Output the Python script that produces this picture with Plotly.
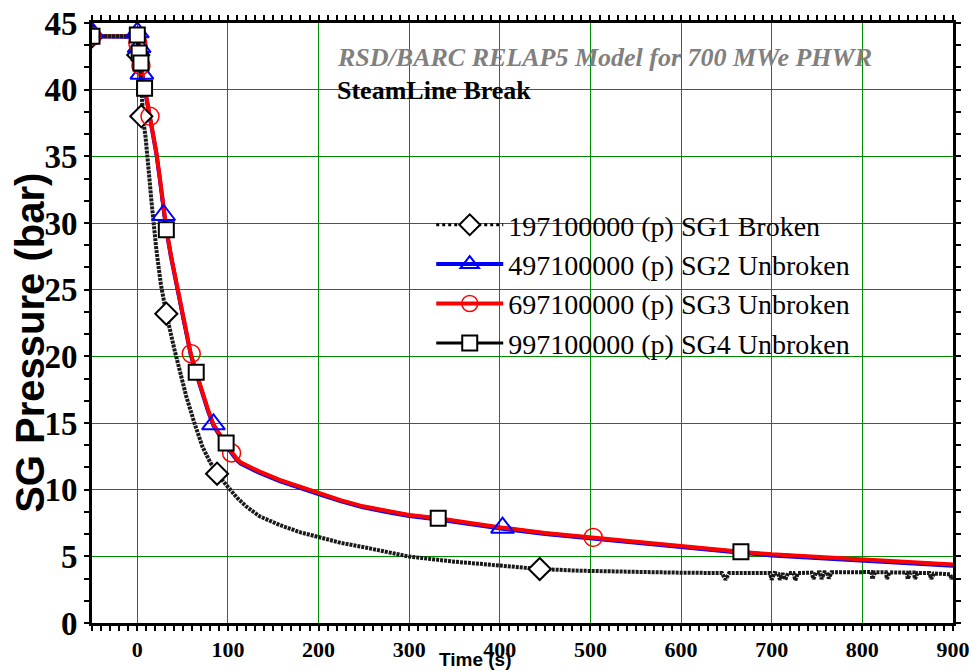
import plotly.graph_objects as go

# ---------------- data ----------------
# SG1 broken (lower curve)
t_sg1 = [-50, 0, 2, 4, 5, 7, 9, 11, 13, 15.5, 21, 26, 32, 41, 54, 63, 72, 80, 88, 100, 110, 120, 135,
         157, 180, 200, 225, 249, 275, 300, 350, 400, 444, 488, 550, 600, 645, 649, 653, 698, 700, 703,
         707, 709, 712, 715, 718, 724, 726, 729, 744, 746, 749, 753, 755, 758, 761, 763, 766, 790, 810,
         811, 814, 826, 827, 830, 849, 850, 853, 857, 858, 861, 874, 876, 879, 897, 898, 900]
p_sg1 = [44.0, 44.0, 42.5, 40.5, 38.5, 37.5, 36.5, 35.3, 33.6, 31.7, 28.0, 25.4, 23.2, 20.5, 17.0, 15.0,
         13.2, 12.1, 11.2, 10.2, 9.4, 8.75, 8.0, 7.35, 6.8, 6.45, 6.0, 5.7, 5.3, 4.98, 4.6, 4.28, 4.05,
         3.92, 3.82, 3.77, 3.75, 3.25, 3.75, 3.75, 3.25, 3.75, 3.7, 3.25, 3.72, 3.25, 3.75, 3.75, 3.2,
         3.75, 3.78, 3.3, 3.78, 3.8, 3.3, 3.8, 3.8, 3.35, 3.8, 3.82, 3.82, 3.3, 3.8, 3.8, 3.3, 3.8, 3.78,
         3.3, 3.78, 3.78, 3.3, 3.75, 3.75, 3.3, 3.72, 3.65, 3.3, 3.6]

# Unbroken curves
t_ub = [-50, 0, 1, 2, 4, 6, 8, 11, 14, 18, 21, 25, 29, 32, 37, 43, 50, 59, 65, 72, 78, 84, 90, 95, 100,
        105, 110, 114, 120, 135, 157, 180, 200, 225, 249, 275, 300, 332, 360, 403, 450, 500, 550, 600,
        666, 700, 750, 797, 850, 900]
p_sg2 = [44.0, 43.95, 43.5, 42.9, 41.8, 40.9, 40.1, 39.0, 37.9, 36.3, 35.2, 33.2, 30.7, 29.5, 27.5, 25.4,
         22.9, 20.1, 18.7, 17.1, 15.9, 14.8, 14.1, 13.6, 13.1, 12.6, 12.2, 11.95, 11.75, 11.25, 10.65,
         10.1, 9.67, 9.12, 8.67, 8.32, 8.02, 7.77, 7.47, 7.07, 6.67, 6.34, 5.97, 5.67, 5.27, 5.07, 4.87,
         4.64, 4.47, 4.3]
p_sg3 = [44.0, 44.0, 43.6, 43.0, 41.9, 41.0, 40.2, 39.1, 38.0, 36.4, 35.3, 33.3, 30.8, 29.6, 27.6, 25.5,
         23.0, 20.2, 18.8, 17.2, 16.0, 14.9, 14.2, 13.7, 13.2, 12.7, 12.3, 12.05, 11.85, 11.35, 10.73,
         10.2, 9.75, 9.2, 8.75, 8.4, 8.1, 7.85, 7.55, 7.15, 6.75, 6.42, 6.05, 5.75, 5.35, 5.15, 4.95,
         4.72, 4.55, 4.38]
p_sg4 = [44.0, 44.0, 43.6, 43.0, 41.9, 41.0, 40.2, 39.1, 38.0, 36.4, 35.3, 33.3, 30.8, 29.6, 27.6, 25.5,
         23.0, 20.2, 18.8, 17.2, 16.0, 14.9, 14.2, 13.7, 13.2, 12.7, 12.3, 12.05, 11.85, 11.35, 10.73,
         10.2, 9.75, 9.2, 8.75, 8.4, 8.1, 7.85, 7.55, 7.15, 6.75, 6.42, 6.05, 5.75, 5.35, 5.15, 4.95,
         4.72, 4.55, 4.38]

# marker positions
mt_sg1 = [-50, 1, 4.4, 32, 88, 444]
mp_sg1 = [44.0, 42.6, 38.0, 23.2, 11.2, 4.05]
mt_sg2 = [-50, 0, 2, 5, 29, 84, 403]
mp_sg2 = [44.3, 44.3, 43.2, 41.2, 30.6, 14.9, 7.15]
mt_sg3 = [-50, 0.5, 4, 14, 59.5, 104, 503]
mp_sg3 = [44.0, 43.5, 41.8, 38.0, 20.2, 12.75, 6.42]
mt_sg4 = [-50, 0, 2, 4, 8, 32, 65, 98, 332, 666]
mp_sg4 = [44.0, 44.1, 42.75, 42.0, 40.1, 29.5, 18.8, 13.5, 7.85, 5.35]

names = ["197100000 (p) SG1 Broken", "497100000 (p) SG2 Unbroken",
         "697100000 (p) SG3 Unbroken", "997100000 (p) SG4 Unbroken"]

x_ticks = [0, 100, 200, 300, 400, 500, 600, 700, 800, 900]
y_ticks = [0, 5, 10, 15, 20, 25, 30, 35, 40, 45]

GREEN = "rgb(0,140,0)"
SERIF = "Liberation Serif"
SANS = "Liberation Sans"

fig = go.Figure()

# curves (no legend)
fig.add_trace(go.Scatter(x=t_ub, y=p_sg4, mode="lines", line=dict(color="black", width=3),
                         showlegend=False, hoverinfo="skip"))
fig.add_trace(go.Scatter(x=t_ub, y=p_sg2, mode="lines", line=dict(color="blue", width=4),
                         showlegend=False, hoverinfo="skip"))
fig.add_trace(go.Scatter(x=t_ub, y=p_sg3, mode="lines", line=dict(color="red", width=4),
                         showlegend=False, hoverinfo="skip"))
fig.add_trace(go.Scatter(x=t_sg1, y=p_sg1, mode="lines",
                         line=dict(color="rgb(25,25,25)", width=4, dash="3px,1px"),
                         showlegend=False, hoverinfo="skip"))

m_sg1 = dict(symbol="diamond", size=17, color="white", line=dict(color="black", width=2))
m_sg2 = dict(symbol="triangle-up-open", size=20, color="blue", line=dict(color="blue", width=2))
m_sg3 = dict(symbol="circle-open", size=18, color="red", line=dict(color="red", width=1.5))
m_sg4 = dict(symbol="square", size=15, color="white", line=dict(color="black", width=2))

fig.add_trace(go.Scatter(x=mt_sg1, y=mp_sg1, mode="markers", marker=m_sg1, showlegend=False))
fig.add_trace(go.Scatter(x=mt_sg2, y=mp_sg2, mode="markers", marker=m_sg2, showlegend=False))
fig.add_trace(go.Scatter(x=mt_sg3, y=mp_sg3, mode="markers", marker=m_sg3, showlegend=False))
fig.add_trace(go.Scatter(x=mt_sg4, y=mp_sg4, mode="markers", marker=m_sg4, showlegend=False))

# legend entries
fig.add_trace(go.Scatter(x=[None], y=[None], mode="lines+markers", name=names[0],
                         line=dict(color="black", width=3, dash="dot"), marker=m_sg1))
fig.add_trace(go.Scatter(x=[None], y=[None], mode="lines+markers", name=names[1],
                         line=dict(color="blue", width=4), marker=m_sg2))
fig.add_trace(go.Scatter(x=[None], y=[None], mode="lines+markers", name=names[2],
                         line=dict(color="red", width=4), marker=m_sg3))
fig.add_trace(go.Scatter(x=[None], y=[None], mode="lines+markers", name=names[3],
                         line=dict(color="black", width=3), marker=m_sg4))

axis_common = dict(showline=True, linecolor="black", linewidth=3, mirror="allticks",
                   ticks="outside", ticklen=5, tickwidth=2, tickcolor="black",
                   showgrid=True, gridcolor=GREEN, gridwidth=1, zeroline=False,
                   automargin=False)

fig.update_xaxes(range=[-50, 900], tickmode="array", tickvals=x_ticks,
                 ticktext=["<b>%d</b>" % v for v in x_ticks],
                 tickfont=dict(family=SERIF, size=22, color="black"),
                 minor=dict(dtick=10, tick0=0, ticks="outside", ticklen=5, tickwidth=2,
                            tickcolor="black", showgrid=False),
                 **axis_common)
fig.update_yaxes(range=[0, 45], tickmode="array", tickvals=y_ticks,
                 ticktext=["<b>%d</b>" % v for v in y_ticks],
                 tickfont=dict(family=SERIF, size=33, color="black"),
                 minor=dict(dtick=5 / 3, tick0=0, ticks="outside", ticklen=5, tickwidth=2,
                            tickcolor="black", showgrid=False),
                 **axis_common)

fig.update_layout(
    width=973, height=671,
    margin=dict(l=92, r=20, t=23, b=48),
    plot_bgcolor="white", paper_bgcolor="white",
    font=dict(family=SERIF),
    legend=dict(x=0.394, y=0.705, xanchor="left", yanchor="top", bgcolor="rgba(0,0,0,0)",
                font=dict(family=SERIF, size=28, color="black"),
                itemwidth=67, tracegroupgap=0, borderwidth=0),
    annotations=[
        dict(text="<b><i>RSD/BARC RELAP5 Model for 700 MWe PHWR</i></b>", xref="paper", yref="paper",
             x=0.282, y=0.942, xanchor="left", yanchor="middle", showarrow=False,
             font=dict(family=SERIF, size=26, color="gray")),
        dict(text="<b>SteamLine Break</b>", xref="paper", yref="paper",
             x=0.282, y=0.887, xanchor="left", yanchor="middle", showarrow=False,
             font=dict(family=SERIF, size=26, color="black")),
        dict(text="<b>SG Pressure (bar)</b>", xref="paper", yref="paper",
             x=-0.072, y=0.467, xanchor="center", yanchor="middle", showarrow=False, textangle=-90,
             font=dict(family=SANS, size=40, color="black")),
        dict(text="<b>Time (s)</b>", xref="paper", yref="paper",
             x=0.445, y=-0.061, xanchor="center", yanchor="middle", showarrow=False,
             font=dict(family=SANS, size=19, color="black")),
    ],
)

fig.write_html("out.html", config={"displayModeBar": False})
